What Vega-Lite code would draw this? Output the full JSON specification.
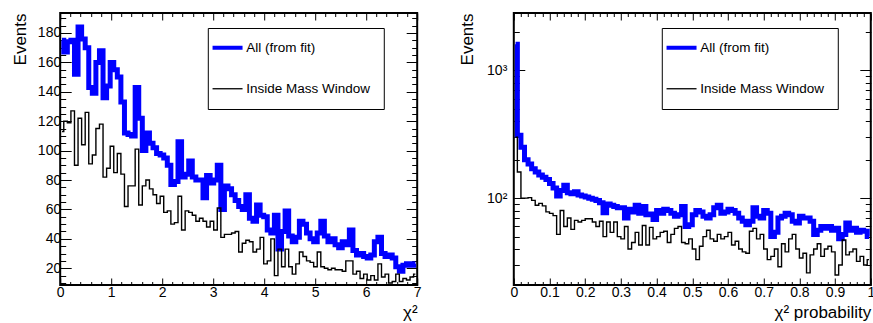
{
"$schema": "https://vega.github.io/schema/vega-lite/v6.json",
"background": "white",
"padding": {"left": 10.2, "top": 10, "right": 0, "bottom": 0},
"bounds": "flush",
"spacing": 96.6,
"config": {
  "font": "Liberation Sans",
  "view": {"stroke": "black", "strokeWidth": 2},
  "axis": {"domain": false, "grid": false, "labelFont": "Liberation Sans", "labelFontSize": 14, "labelColor": "black", "tickColor": "black", "tickWidth": 1, "titleFont": "Liberation Sans", "titleFontSize": 17, "titleFontWeight": "normal", "titleColor": "black", "labelFlush": false, "labelOverlap": false, "labelBound": false},
  "legend": {"orient": "none", "legendY": 15, "title": null, "symbolType": "stroke", "symbolSize": 900, "strokeColor": "black", "fillColor": "white", "padding": 13, "rowPadding": 25, "labelFontSize": 13.5, "labelOffset": 12, "labelColor": "black", "labelFont": "Liberation Sans", "cornerRadius": 0}
},
"resolve": {"scale": {"color": "independent"}, "legend": {"color": "independent"}},
"datasets": {
"chi2": [
{"x":0.035,"a":175,"b":113},{"x":0.105,"a":167,"b":120},{"x":0.175,"a":174,"b":119},{"x":0.245,"a":175,"b":127},{"x":0.315,"a":152,"b":90},
{"x":0.385,"a":184,"b":122},{"x":0.455,"a":176,"b":104},{"x":0.525,"a":170,"b":126},{"x":0.595,"a":143,"b":91},{"x":0.665,"a":139,"b":97},
{"x":0.735,"a":160,"b":115},{"x":0.805,"a":168,"b":118},{"x":0.875,"a":136,"b":82},{"x":0.945,"a":144,"b":88},{"x":1.015,"a":160,"b":103},
{"x":1.085,"a":155,"b":85},{"x":1.155,"a":150,"b":98},{"x":1.225,"a":133,"b":84},{"x":1.295,"a":112,"b":62},{"x":1.365,"a":111,"b":76},
{"x":1.435,"a":110,"b":76},{"x":1.505,"a":143,"b":101},{"x":1.575,"a":122,"b":63},{"x":1.645,"a":100,"b":76},{"x":1.715,"a":112,"b":80},
{"x":1.785,"a":105,"b":74},{"x":1.855,"a":102,"b":70},{"x":1.925,"a":98,"b":64},{"x":1.995,"a":97,"b":69},{"x":2.065,"a":95,"b":58},
{"x":2.135,"a":90,"b":59},{"x":2.205,"a":77,"b":50},{"x":2.275,"a":79,"b":51},{"x":2.345,"a":106,"b":69},{"x":2.415,"a":82,"b":46},
{"x":2.485,"a":84,"b":59},{"x":2.555,"a":93,"b":58},{"x":2.625,"a":82,"b":56},{"x":2.695,"a":80,"b":52},{"x":2.765,"a":80,"b":54},
{"x":2.835,"a":68,"b":52},{"x":2.905,"a":83,"b":48},{"x":2.975,"a":78,"b":52},{"x":3.045,"a":80,"b":46},{"x":3.115,"a":90,"b":61},
{"x":3.185,"a":60,"b":41},{"x":3.255,"a":76,"b":43},{"x":3.325,"a":74,"b":43},{"x":3.395,"a":70,"b":44},{"x":3.465,"a":66,"b":45},
{"x":3.535,"a":62,"b":31},{"x":3.605,"a":60,"b":37},{"x":3.675,"a":70,"b":39},{"x":3.745,"a":54,"b":38},{"x":3.815,"a":52,"b":31},
{"x":3.885,"a":63,"b":33},{"x":3.955,"a":56,"b":41},{"x":4.025,"a":55,"b":23},{"x":4.095,"a":46,"b":25},{"x":4.165,"a":44,"b":40},
{"x":4.235,"a":56,"b":15},{"x":4.305,"a":33,"b":33},{"x":4.375,"a":45,"b":21},{"x":4.445,"a":59,"b":33},{"x":4.515,"a":42,"b":21},
{"x":4.585,"a":38,"b":16},{"x":4.655,"a":41,"b":23},{"x":4.725,"a":52,"b":31},{"x":4.795,"a":50,"b":28},{"x":4.865,"a":44,"b":25},
{"x":4.935,"a":40,"b":24},{"x":5.005,"a":38,"b":21},{"x":5.075,"a":44,"b":31},{"x":5.145,"a":52,"b":21},{"x":5.215,"a":42,"b":20},
{"x":5.285,"a":38,"b":19},{"x":5.355,"a":40,"b":20},{"x":5.425,"a":36,"b":19},{"x":5.495,"a":34,"b":19},{"x":5.565,"a":38,"b":18},
{"x":5.635,"a":36,"b":25},{"x":5.705,"a":46,"b":25},{"x":5.775,"a":32,"b":16},{"x":5.845,"a":29,"b":18},{"x":5.915,"a":30,"b":13},
{"x":5.985,"a":28,"b":16},{"x":6.055,"a":27,"b":12},{"x":6.125,"a":29,"b":15},{"x":6.195,"a":38,"b":12},{"x":6.265,"a":41,"b":23},
{"x":6.335,"a":30,"b":14},{"x":6.405,"a":28,"b":16},{"x":6.475,"a":29,"b":10},{"x":6.545,"a":27,"b":11},{"x":6.615,"a":21,"b":16},
{"x":6.685,"a":18,"b":11},{"x":6.755,"a":22,"b":13},{"x":6.825,"a":23,"b":12},{"x":6.895,"a":22,"b":14},{"x":6.965,"a":23,"b":16}
],
"prob": [
{"x":0.005,"a":1600,"b":300},{"x":0.015,"a":310,"b":160},{"x":0.025,"a":250,"b":100},{"x":0.035,"a":200,"b":100},{"x":0.045,"a":185,"b":101},
{"x":0.055,"a":170,"b":96},{"x":0.065,"a":160,"b":88},{"x":0.075,"a":152,"b":91},{"x":0.085,"a":146,"b":87},{"x":0.095,"a":140,"b":78},
{"x":0.105,"a":130,"b":76},{"x":0.115,"a":120,"b":73},{"x":0.125,"a":104,"b":52},{"x":0.135,"a":115,"b":80},{"x":0.145,"a":126,"b":60},
{"x":0.155,"a":110,"b":70},{"x":0.165,"a":108,"b":57},{"x":0.175,"a":112,"b":67},{"x":0.185,"a":106,"b":65},{"x":0.195,"a":104,"b":67},
{"x":0.205,"a":102,"b":69},{"x":0.215,"a":100,"b":69},{"x":0.225,"a":98,"b":65},{"x":0.235,"a":96,"b":60},{"x":0.245,"a":92,"b":66},
{"x":0.255,"a":77,"b":50},{"x":0.265,"a":90,"b":65},{"x":0.275,"a":88,"b":54},{"x":0.285,"a":86,"b":65},{"x":0.295,"a":84,"b":50},
{"x":0.305,"a":84,"b":48},{"x":0.315,"a":70,"b":60},{"x":0.325,"a":82,"b":40},{"x":0.335,"a":78,"b":45},{"x":0.345,"a":88,"b":54},
{"x":0.355,"a":76,"b":43},{"x":0.365,"a":86,"b":61},{"x":0.375,"a":74,"b":43},{"x":0.385,"a":75,"b":59},{"x":0.395,"a":68,"b":48},
{"x":0.405,"a":80,"b":50},{"x":0.415,"a":76,"b":54},{"x":0.425,"a":82,"b":55},{"x":0.435,"a":80,"b":45},{"x":0.445,"a":76,"b":52},
{"x":0.455,"a":72,"b":58},{"x":0.465,"a":74,"b":60},{"x":0.475,"a":86,"b":45},{"x":0.485,"a":60,"b":44},{"x":0.495,"a":62,"b":48},
{"x":0.505,"a":74,"b":40},{"x":0.515,"a":80,"b":33},{"x":0.525,"a":78,"b":42},{"x":0.535,"a":72,"b":50},{"x":0.545,"a":70,"b":56},
{"x":0.555,"a":74,"b":48},{"x":0.565,"a":84,"b":46},{"x":0.575,"a":88,"b":52},{"x":0.585,"a":76,"b":48},{"x":0.595,"a":78,"b":50},
{"x":0.605,"a":82,"b":54},{"x":0.615,"a":80,"b":43},{"x":0.625,"a":76,"b":46},{"x":0.635,"a":70,"b":40},{"x":0.645,"a":66,"b":38},
{"x":0.655,"a":62,"b":37},{"x":0.665,"a":66,"b":55},{"x":0.675,"a":84,"b":58},{"x":0.685,"a":72,"b":48},{"x":0.695,"a":70,"b":52},
{"x":0.705,"a":80,"b":40},{"x":0.715,"a":76,"b":33},{"x":0.725,"a":50,"b":35},{"x":0.735,"a":54,"b":40},{"x":0.745,"a":70,"b":29},
{"x":0.755,"a":72,"b":44},{"x":0.765,"a":76,"b":38},{"x":0.775,"a":74,"b":48},{"x":0.785,"a":66,"b":52},{"x":0.795,"a":64,"b":40},
{"x":0.805,"a":72,"b":34},{"x":0.815,"a":70,"b":37},{"x":0.825,"a":70,"b":26},{"x":0.835,"a":66,"b":36},{"x":0.845,"a":52,"b":40},
{"x":0.855,"a":56,"b":44},{"x":0.865,"a":60,"b":35},{"x":0.875,"a":58,"b":40},{"x":0.885,"a":60,"b":42},{"x":0.895,"a":56,"b":38},
{"x":0.905,"a":58,"b":25},{"x":0.915,"a":48,"b":30},{"x":0.925,"a":52,"b":47},{"x":0.935,"a":64,"b":36},{"x":0.945,"a":56,"b":38},
{"x":0.955,"a":58,"b":40},{"x":0.965,"a":54,"b":32},{"x":0.975,"a":56,"b":35},{"x":0.985,"a":55,"b":30},{"x":0.995,"a":50,"b":33}
]
},
"hconcat": [
{
  "width": 357, "height": 272,
  "data": {"name": "chi2"},
  "layer": [
    {
      "mark": {"type": "line", "interpolate": "step", "strokeWidth": 5},
      "encoding": {
        "x": {"field": "x", "type": "quantitative", "scale": {"domain": [0, 7], "nice": false, "zero": false},
          "axis": {"orient": "bottom", "title": "χ²", "titleAnchor": "end", "titlePadding": 1,
            "values": [0,0.2,0.4,0.6,0.8,1,1.2,1.4,1.6,1.8,2,2.2,2.4,2.6,2.8,3,3.2,3.4,3.6,3.8,4,4.2,4.4,4.6,4.8,5,5.2,5.4,5.6,5.8,6,6.2,6.4,6.6,6.8,7],
            "labelExpr": "abs(datum.value - round(datum.value)) < 0.001 ? format(datum.value, 'd') : ''",
            "tickSize": {"condition": {"test": "abs(datum.value - round(datum.value)) < 0.001", "value": -7}, "value": -3.5},
            "labelPadding": 8}},
        "y": {"field": "a", "type": "quantitative", "scale": {"domain": [8.6, 193.6], "nice": false, "zero": false},
          "axis": {"orient": "left", "title": "Events", "titleAnchor": "end", "titlePadding": 8,
            "values": [10,15,20,25,30,35,40,45,50,55,60,65,70,75,80,85,90,95,100,105,110,115,120,125,130,135,140,145,150,155,160,165,170,175,180,185,190],
            "labelExpr": "datum.value % 20 == 0 ? datum.label : ''",
            "tickSize": {"condition": {"test": "datum.value % 20 == 0", "value": -11}, "value": -5.5},
            "labelPadding": 10.5}},
        "color": {"datum": "All (from fit)", "type": "nominal",
          "scale": {"domain": ["All (from fit)", "Inside Mass Window"], "range": ["#0000ff", "#000000"]},
          "legend": {"legendX": 147.6, "encode": {"symbols": {"update": {"strokeWidth": {"signal": "datum.value === 'All (from fit)' ? 4 : 1.3"}}}}}}
      }
    },
    {
      "mark": {"type": "line", "interpolate": "step", "strokeWidth": 1.4},
      "encoding": {
        "x": {"field": "x", "type": "quantitative",
          "axis": {"orient": "top", "title": null, "labels": false,
            "values": [0,0.2,0.4,0.6,0.8,1,1.2,1.4,1.6,1.8,2,2.2,2.4,2.6,2.8,3,3.2,3.4,3.6,3.8,4,4.2,4.4,4.6,4.8,5,5.2,5.4,5.6,5.8,6,6.2,6.4,6.6,6.8,7],
            "tickSize": {"condition": {"test": "abs(datum.value - round(datum.value)) < 0.001", "value": -7}, "value": -3.5}}},
        "y": {"field": "b", "type": "quantitative",
          "axis": {"orient": "right", "title": null, "labels": false,
            "values": [10,15,20,25,30,35,40,45,50,55,60,65,70,75,80,85,90,95,100,105,110,115,120,125,130,135,140,145,150,155,160,165,170,175,180,185,190],
            "tickSize": {"condition": {"test": "datum.value % 20 == 0", "value": -11}, "value": -5.5}}},
        "color": {"datum": "Inside Mass Window", "type": "nominal"}
      }
    }
  ],
  "resolve": {"axis": {"x": "independent", "y": "independent"}}
},
{
  "width": 357, "height": 272,
  "data": {"name": "prob"},
  "layer": [
    {
      "mark": {"type": "line", "interpolate": "step", "strokeWidth": 5},
      "encoding": {
        "x": {"field": "x", "type": "quantitative", "scale": {"domain": [0, 1], "nice": false, "zero": false},
          "axis": {"orient": "bottom", "title": "χ² probability", "titleAnchor": "end", "titlePadding": 1,
            "values": [0,0.02,0.04,0.06,0.08,0.1,0.12,0.14,0.16,0.18,0.2,0.22,0.24,0.26,0.28,0.3,0.32,0.34,0.36,0.38,0.4,0.42,0.44,0.46,0.48,0.5,0.52,0.54,0.56,0.58,0.6,0.62,0.64,0.66,0.68,0.7,0.72,0.74,0.76,0.78,0.8,0.82,0.84,0.86,0.88,0.9,0.92,0.94,0.96,0.98,1],
            "labelExpr": "abs(datum.value*10 - round(datum.value*10)) < 0.001 ? format(datum.value, '~g') : ''",
            "tickSize": {"condition": {"test": "abs(datum.value*10 - round(datum.value*10)) < 0.001", "value": -7}, "value": -3.5},
            "labelPadding": 8}},
        "y": {"field": "a", "type": "quantitative", "scale": {"type": "log", "domain": [20.9, 2812], "nice": false},
          "axis": {"orient": "left", "title": "Events", "titleAnchor": "end", "titlePadding": 10,
            "values": [30,40,50,60,70,80,90,100,200,300,400,500,600,700,800,900,1000,2000],
            "labelExpr": "datum.value == 100 ? '10²' : datum.value == 1000 ? '10³' : ''",
            "tickSize": {"condition": {"test": "datum.value == 100 || datum.value == 1000", "value": -11}, "value": -5.5},
            "labelPadding": 18}},
        "color": {"datum": "All (from fit)", "type": "nominal",
          "scale": {"domain": ["All (from fit)", "Inside Mass Window"], "range": ["#0000ff", "#000000"]},
          "legend": {"legendX": 148, "encode": {"symbols": {"update": {"strokeWidth": {"signal": "datum.value === 'All (from fit)' ? 4 : 1.3"}}}}}}
      }
    },
    {
      "mark": {"type": "line", "interpolate": "step", "strokeWidth": 1.4},
      "encoding": {
        "x": {"field": "x", "type": "quantitative",
          "axis": {"orient": "top", "title": null, "labels": false,
            "values": [0,0.02,0.04,0.06,0.08,0.1,0.12,0.14,0.16,0.18,0.2,0.22,0.24,0.26,0.28,0.3,0.32,0.34,0.36,0.38,0.4,0.42,0.44,0.46,0.48,0.5,0.52,0.54,0.56,0.58,0.6,0.62,0.64,0.66,0.68,0.7,0.72,0.74,0.76,0.78,0.8,0.82,0.84,0.86,0.88,0.9,0.92,0.94,0.96,0.98,1],
            "tickSize": {"condition": {"test": "abs(datum.value*10 - round(datum.value*10)) < 0.001", "value": -7}, "value": -3.5}}},
        "y": {"field": "b", "type": "quantitative",
          "axis": {"orient": "right", "title": null, "labels": false,
            "values": [30,40,50,60,70,80,90,100,200,300,400,500,600,700,800,900,1000,2000],
            "tickSize": {"condition": {"test": "datum.value == 100 || datum.value == 1000", "value": -11}, "value": -5.5}}},
        "color": {"datum": "Inside Mass Window", "type": "nominal"}
      }
    }
  ],
  "resolve": {"axis": {"x": "independent", "y": "independent"}}
}
]
}
